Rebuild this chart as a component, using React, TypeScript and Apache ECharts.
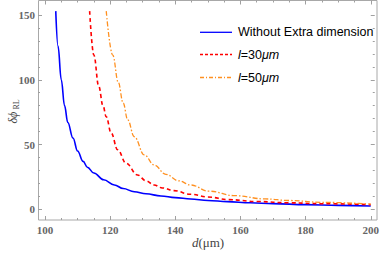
import React, { useEffect, useRef } from "react";
import * as echarts from "echarts";

const dBlue = [103.3, 104, 105, 106, 107, 108.6, 110, 111.7, 113, 115, 118, 121.3, 124, 127.4, 131, 135.6, 140, 144.7, 150, 156, 163, 170, 180, 190, 200];
const phiBlue = [153, 126, 100, 80, 67, 55, 45, 37, 32.5, 28, 22.8, 18.8, 16, 13.6, 12, 10.3, 9, 8.0, 6.8, 5.9, 5, 4.4, 3.6, 3.0, 2.5];

const dL30 = [113.7, 115, 116.5, 117.8, 118.8, 120.3, 122.3, 124.9, 128.4, 131, 133.5, 136, 139.6, 144.7, 150, 156.4, 165, 175, 185, 200];
const phiL30 = [153, 119, 95, 80, 71.5, 59, 46, 35.5, 26.5, 22, 18.8, 16.5, 14.4, 11.6, 9.5, 7.5, 6, 5, 4.3, 3.6];

const dL50 = [118.8, 120.8, 122.5, 124, 125.4, 127.4, 130.5, 133.5, 137.1, 141, 144.7, 150.3, 158.4, 167.6, 175, 185, 200];
const phiL50 = [153, 119, 98, 82, 69, 56, 42, 34.2, 27, 22, 18.8, 14, 10.5, 8, 6.8, 5.4, 4.0];

const xTicks = { min: 100, max: 200, interval: 20 };
const yTicks = { min: 0, max: 150, interval: 50 };

const seriesNames = ["Without Extra dimension", "l=30\u03bcm", "l=50\u03bcm"];
const seriesColors = ["#0000ff", "#ff0000", "#ff9020"];
const seriesDash: (number[] | null)[] = [null, [4, 3], [5, 2, 1.5, 2]];
const legendDash: (number[] | null)[] = [null, [3, 2], [4, 2, 1, 2]];

const pairs = (xs: number[], ys: number[]) => xs.map((x, i) => [x, ys[i]]);

export default function App() {
  const ref = useRef<HTMLDivElement>(null);
  useEffect(() => {
    if (!ref.current) return;
    const chart = echarts.init(ref.current, null, { renderer: "svg" });
    const tickColor = "#a0a0a0";
    const serif = "'Liberation Serif', 'Times New Roman', serif";
    const sans = "'Liberation Sans', Arial, sans-serif";
    const baseX = {
      type: "value" as const,
      min: xTicks.min,
      max: xTicks.max,
      interval: xTicks.interval,
      axisLine: { show: false, onZero: false },
      splitLine: { show: false },
      axisTick: { show: true, inside: true, length: 4, lineStyle: { color: tickColor } },
      minorTick: { show: true, splitNumber: 4, length: 2, lineStyle: { color: tickColor } },
    };
    const baseY = {
      type: "value" as const,
      min: yTicks.min,
      max: yTicks.max,
      interval: yTicks.interval,
      axisLine: { show: false, onZero: false },
      splitLine: { show: false },
      axisTick: { show: true, inside: true, length: 4, lineStyle: { color: tickColor } },
      minorTick: { show: true, splitNumber: 5, length: 2, lineStyle: { color: tickColor } },
    };
    const tickLabel = {
      show: true,
      fontFamily: serif,
      fontSize: 11,
      fontWeight: "bold" as const,
      color: "#666",
    };
    const legendYs = [32.3, 54.5, 77.5];
    const legendGraphics: any[] = [];
    seriesNames.forEach((name, i) => {
      legendGraphics.push({
        type: "line",
        shape: { x1: 200, y1: legendYs[i], x2: 232, y2: legendYs[i] },
        style: {
          stroke: seriesColors[i],
          lineWidth: 1.3,
          lineDash: legendDash[i] || undefined,
        },
        silent: true,
      });
      const isL = name.startsWith("l=");
      legendGraphics.push({
        type: "text",
        x: 238,
        y: legendYs[i],
        style: isL
          ? {
              text: "{i|l}{n|" + name.slice(1, 4) + "}{i|\u03bcm}",
              textVerticalAlign: "middle",
              rich: {
                i: { fontFamily: sans, fontSize: 12.5, fontStyle: "italic", fill: "#000" },
                n: { fontFamily: sans, fontSize: 12.5, fill: "#000" },
              },
            }
          : {
              text: name,
              textVerticalAlign: "middle",
              font: "12.5px " + sans,
              fill: "#000",
            },
        silent: true,
      });
    });
    chart.setOption({
      animation: false,
      grid: { left: 45, right: 9, top: 15, bottom: 44.7, containLabel: false },
      xAxis: [
        { ...baseX, position: "bottom", offset: 10.7, axisLabel: { ...tickLabel, margin: 4 } },
        { ...baseX, position: "top", offset: 14.5, axisLabel: { show: false } },
      ],
      yAxis: [
        { ...baseY, position: "left", offset: 7, axisLabel: { ...tickLabel, margin: 3 } },
        { ...baseY, position: "right", offset: 4, axisLabel: { show: false } },
      ],
      graphic: [
        {
          type: "rect",
          shape: { x: 38.5, y: 0.5, width: 338.5, height: 219.5 },
          style: { fill: "none", stroke: "#a8a8a8", lineWidth: 1 },
          silent: true,
        },
        {
          type: "group",
          x: 13,
          y: 110,
          rotation: Math.PI / 2,
          children: [
            {
              type: "text",
              x: -13.5,
              y: 0,
              style: {
                text: "\u03b4\u03d5",
                font: "italic 12px " + serif,
                fill: "#444",
                textVerticalAlign: "middle",
                textAlign: "left",
              },
            },
            {
              type: "text",
              x: 0.5,
              y: 3,
              style: {
                text: "RL",
                font: "8px " + serif,
                fill: "#444",
                textVerticalAlign: "middle",
                textAlign: "left",
              },
            },
          ],
        },
        {
          type: "text",
          x: 208,
          y: 242,
          style: {
            text: "{i|d}{n|(\u03bcm)}",
            textAlign: "center",
            textVerticalAlign: "middle",
            rich: {
              i: { fontFamily: serif, fontSize: 13, fontStyle: "italic", fill: "#444" },
              n: { fontFamily: serif, fontSize: 13, fill: "#444" },
            },
          },
        },
        ...legendGraphics,
      ],
      series: [
        { d: dBlue, v: phiBlue, w: 1.6 },
        { d: dL30, v: phiL30, w: 1.6 },
        { d: dL50, v: phiL50, w: 1.3 },
      ].map((s, i) => ({
        name: seriesNames[i],
        type: "line",
        data: pairs(s.d, s.v),
        symbol: "none",
        smooth: 0.4,
        smoothMonotone: "x",
        clip: false,
        lineStyle: { color: seriesColors[i], width: s.w, type: seriesDash[i] || "solid" },
        itemStyle: { color: seriesColors[i] },
      })),
    });
    return () => chart.dispose();
  }, []);
  return <div ref={ref} style={{ width: 382, height: 254, position: "absolute", left: 0, top: 0 }} />;
}
